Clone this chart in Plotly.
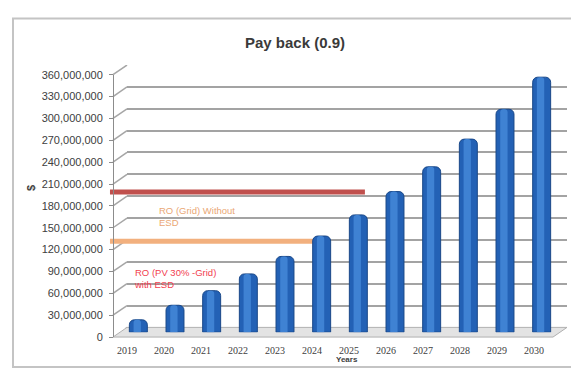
import plotly.graph_objects as go

# ---- data ----
years = [2019, 2020, 2021, 2022, 2023, 2024, 2025, 2026, 2027, 2028, 2029, 2030]
payback = [17e6, 37e6, 57e6, 80e6, 104e6, 132e6, 161e6, 193e6, 227e6, 265e6, 306e6, 350e6]

y_ticks = [0, 30e6, 60e6, 90e6, 120e6, 150e6, 180e6, 210e6, 240e6, 270e6, 300e6, 330e6, 360e6]
y_tick_text = [f"{int(v):,}" for v in y_ticks]

# reference levels
ref_names = ["RO (PV 30% -Grid)<br>with ESD", "RO (Grid) Without<br>ESD"]
ref_values = [199e6, 131.5e6]
ref_start = [2018.54, 2018.54]
ref_end = [2025.43, 2024.03]
ref_line_colors = ["#c0504d", "#f2b07e"]
ref_text_colors = ["#f2404f", "#eaa775"]
ref_label_x = [2019.14, 2019.81]
ref_label_y = [80e6, 165e6]

W, H = 571, 375
YMAX = 360e6


def px(x):
    return x / W


def py(y):
    return 1 - y / H


# 3D-ish geometry of the chart box (pixels)
FRONT_L, FRONT_R, FRONT_B, FRONT_T = 113, 553, 342, 71
DX, DY = 14, 10  # depth offset of the back wall
unit = (FRONT_B - FRONT_T) / YMAX  # px per dollar
depth_units = DY / unit

fig = go.Figure()

# bars (mid depth): dark body with a lighter centre band
fig.add_trace(go.Bar(
    x=years, y=payback, xaxis="x3", yaxis="y3",
    width=0.49, offset=-0.245,
    marker=dict(color="#2361b5", line=dict(color="#1a4888", width=1), cornerradius=5),
    hoverinfo="skip", showlegend=False,
))
fig.add_trace(go.Bar(
    x=years, y=payback, xaxis="x3", yaxis="y3",
    width=0.2, offset=-0.13,
    marker=dict(color="#3f82d3", line=dict(width=0), cornerradius=3),
    hoverinfo="skip", showlegend=False,
))

# invisible traces so the wall and front-axis subplots exist
fig.add_trace(go.Scatter(x=[years[0]], y=[0], xaxis="x2", yaxis="y2",
                         mode="markers", marker=dict(opacity=0),
                         hoverinfo="skip", showlegend=False))
fig.add_trace(go.Scatter(x=[0], y=[0], xaxis="x", yaxis="y",
                         mode="markers", marker=dict(opacity=0),
                         hoverinfo="skip", showlegend=False))

shapes = []
# floor
shapes.append(dict(
    type="path", xref="paper", yref="paper", layer="below",
    path=(f"M {px(FRONT_L)},{py(FRONT_B)} L {px(FRONT_R)},{py(FRONT_B)} "
          f"L {px(FRONT_R + DX)},{py(FRONT_B - DY)} L {px(FRONT_L + DX)},{py(FRONT_B - DY)} Z"),
    fillcolor="#e3e3e3", line=dict(color="#b0b0b0", width=1),
))
# side-wall stubs joining front ticks to back-wall gridlines
for v in y_ticks:
    shapes.append(dict(
        type="line", xref="paper", yref="y", layer="below",
        x0=px(FRONT_L), x1=px(FRONT_L + DX), y0=v - depth_units, y1=v,
        line=dict(color="#a6a6a6", width=1.5),
    ))
# reference lines
for v, xs, xe, c in zip(ref_values, ref_start, ref_end, ref_line_colors):
    shapes.append(dict(
        type="line", xref="x2", yref="y2", layer="below",
        x0=xs, x1=xe, y0=v, y1=v,
        line=dict(color=c, width=5),
    ))
# chart border
shapes.append(dict(
    type="rect", xref="paper", yref="paper", layer="above",
    x0=px(13), x1=px(W + 5), y0=py(373), y1=py(13),
    line=dict(color="#c4c4c4", width=2), fillcolor="rgba(0,0,0,0)",
))

annotations = [
    dict(text="<b>Pay back (0.9)</b>", xref="paper", yref="paper",
         x=px(295), y=py(38), xanchor="center", yanchor="middle", showarrow=False,
         font=dict(size=15, color="#3a3a3a", family="Liberation Sans")),
    dict(text="<b>$</b>", xref="paper", yref="paper", x=px(31), y=py(188),
         xanchor="center", yanchor="middle", showarrow=False, textangle=-90,
         font=dict(size=11, color="#404040", family="Liberation Sans")),
    dict(text="<b>Years</b>", xref="paper", yref="paper", x=px(347), y=py(365),
         xanchor="center", yanchor="middle", showarrow=False,
         font=dict(size=8, color="#404040", family="Liberation Sans")),
]
for name, lx, ly, c in zip(ref_names, ref_label_x, ref_label_y, ref_text_colors):
    annotations.append(dict(
        text=name, xref="x2", yref="y2", x=lx, y=ly, xanchor="left", yanchor="middle",
        align="left", showarrow=False,
        font=dict(size=9.5, color=c, family="Liberation Sans"),
    ))

fig.update_layout(
    width=W, height=H, margin=dict(l=0, r=0, t=0, b=0),
    paper_bgcolor="white", plot_bgcolor="rgba(0,0,0,0)",
    barmode="overlay", showlegend=False,
    shapes=shapes, annotations=annotations,
    # back wall with gridlines
    xaxis=dict(domain=[px(FRONT_L + DX), px(FRONT_R + DX)], range=[0, 1], visible=False),
    yaxis=dict(domain=[py(FRONT_B - DY), py(FRONT_T - DY)], range=[0, YMAX], anchor="x",
               tickvals=y_ticks, showgrid=True, gridcolor="#a3a3a3", gridwidth=1.5,
               showticklabels=False, zeroline=False, showline=False, ticks=""),
    # front axes with labels
    xaxis2=dict(domain=[px(108.5), px(552.5)], range=[2018.5, 2030.5], anchor="y2",
                tickvals=years, ticktext=[str(y) for y in years], showgrid=False,
                zeroline=False, showline=False, ticks="", ticklabelstandoff=6,
                tickfont=dict(size=10, color="#404040", family="Liberation Sans Narrow")),
    yaxis2=dict(domain=[py(FRONT_B), py(FRONT_T)], range=[0, YMAX], anchor="free",
                position=px(FRONT_L), tickvals=y_ticks, ticktext=y_tick_text,
                showgrid=False, zeroline=False, showline=True, linecolor="#8c8c8c",
                linewidth=1, ticks="outside", ticklen=4, tickcolor="#8c8c8c",
                ticklabelstandoff=4,
                tickfont=dict(size=11, color="#404040", family="Liberation Sans")),
    # bars
    xaxis3=dict(domain=[px(109), px(560)], range=[2018.2, 2030.5], visible=False),
    yaxis3=dict(domain=[py(337), py(66)], range=[0, YMAX], anchor="x3", visible=False),
)

fig.write_html("out.html")
